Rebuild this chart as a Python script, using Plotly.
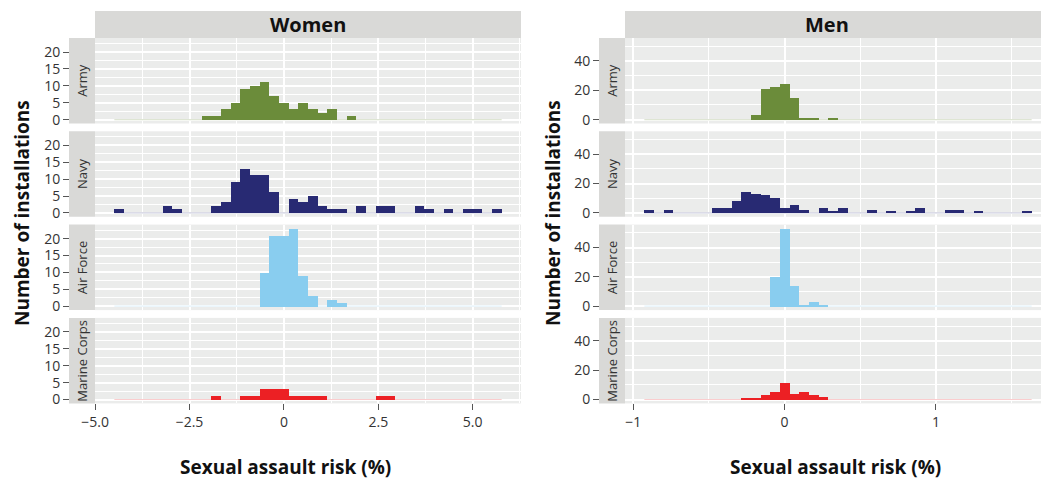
import plotly.graph_objects as go

W, H = 1049, 479
OFF = 8  # page body margin offset in the browser
FW, FH = W - OFF, H - OFF

services = ["Army", "Navy", "Air Force", "Marine Corps"]
service_colors = ["#6b8c3a", "#282a73", "#89cdef", "#ec2024"]

# ---- Women: histogram bins (40 bins) ----
women_bin_start = -4.49
women_bin_width = 0.2564
women_army = [0,0,0,0,0,0,0,0,0,1,1,3,5,9,10,11,7,5,3,5,3,2,3,0,1,0,0,0,0,0,0,0,0,0,0,0,0,0,0,0]
women_navy = [1,0,0,0,0,2,1,0,0,0,2,3,9,13,11,11,6,0,4,3,5,2,1,1,0,2,0,2,2,0,0,2,1,0,1,0,1,1,0,1]
women_airforce = [0,0,0,0,0,0,0,0,0,0,0,0,0,0,0,10,21,21,23,9,3,0,2,1,0,0,0,0,0,0,0,0,0,0,0,0,0,0,0,0]
women_marines = [0,0,0,0,0,0,0,0,0,0,1,0,0,1,1,3,3,3,1,1,1,1,0,0,0,0,0,1,1,0,0,0,0,0,0,0,0,0,0,0]

# ---- Men: histogram bins (40 bins) ----
men_bin_start = -0.926
men_bin_width = 0.06395
men_army = [0,0,0,0,0,0,0,0,0,0,0,3,21,22,24,15,1,1,0,1,0,0,0,0,0,0,0,0,0,0,0,0,0,0,0,0,0,0,0,0]
men_navy = [2,0,2,0,0,0,0,3,3,8,14,13,12,10,3,5,2,0,3,1,3,0,0,2,0,1,0,1,3,0,0,2,2,0,1,0,0,0,0,1]
men_airforce = [0,0,0,0,0,0,0,0,0,0,0,0,0,20,53,14,1,3,1,0,0,0,0,0,0,0,0,0,0,0,0,0,0,0,0,0,0,0,0,0]
men_marines = [0,0,0,0,0,0,0,0,0,0,1,1,3,5,11,4,5,3,2,0,0,0,0,0,0,0,0,0,0,0,0,0,0,0,0,0,0,0,0,0]

# ---- tick labels ----
women_xticks = [-5.0, -2.5, 0, 2.5, 5.0]
women_xticktext = ["\u22125.0", "\u22122.5", "0", "2.5", "5.0"]
women_xminor = [-3.75, -1.25, 1.25, 3.75, 6.25]
men_xticks = [-1, 0, 1]
men_xticktext = ["\u22121", "0", "1"]
men_xminor = [-0.5, 0.5, 1.5]
women_yticks = [0, 5, 10, 15, 20]
women_yminor = [2.5, 7.5, 12.5, 17.5, 22.5]
men_yticks = [0, 20, 40]
men_yminor = [10, 30, 50]

columns = [
    dict(title="Women", start=women_bin_start, width=women_bin_width,
         counts=[women_army, women_navy, women_airforce, women_marines],
         xticks=women_xticks, xtext=women_xticktext, xminor=women_xminor,
         yticks=women_yticks, yminor=women_yminor),
    dict(title="Men", start=men_bin_start, width=men_bin_width,
         counts=[men_army, men_navy, men_airforce, men_marines],
         xticks=men_xticks, xtext=men_xticktext, xminor=men_xminor,
         yticks=men_yticks, yminor=men_yminor),
]

# ---- layout geometry (window pixels) ----
col_plot_x = [(95, 521), (625, 1049)]
col_strip_x = [(69, 95), (599, 625)]
row_tops = [38, 131.3, 224.6, 317.9]
row_h = 85.5
header_y = (11, 38)

def px(x):
    return (x - OFF) / FW

def py(y):
    return 1 - (y - OFF) / FH

FONT = "Open Sans"
BG = "#ebeceb"
STRIP = "#d9d9d7"

fig = go.Figure()
layout = {}
shapes = []
annotations = []

n = 0
for c, col in enumerate(columns):
    nb = len(col["counts"][0])
    edges_lo = col["start"]
    edges_hi = col["start"] + nb * col["width"]
    pad = 0.05 * (edges_hi - edges_lo)
    x0p, x1p = col_plot_x[c]
    xlo = edges_lo - pad
    if c == 0:
        xr = [xlo, edges_hi + pad]
    else:
        full_w_px = 426.0  # uncropped panel width, same as the Women column
        s = full_w_px / ((edges_hi + pad) - xlo)
        xr = [xlo, xlo + (x1p - x0p) / s]
    ymax = max(max(v) for v in col["counts"])
    yr = [-0.05 * ymax, 1.05 * ymax]
    centers = [col["start"] + (i + 0.5) * col["width"] for i in range(nb)]

    for r, svc in enumerate(services):
        n += 1
        xa = "x" if n == 1 else f"x{n}"
        ya = "y" if n == 1 else f"y{n}"
        counts = col["counts"][r]
        color = service_colors[r]
        fig.add_trace(go.Scatter(
            x=[edges_lo, edges_hi], y=[0, 0], mode="lines",
            line=dict(color=color, width=1.2), opacity=0.22,
            xaxis=xa, yaxis=ya, showlegend=False, hoverinfo="skip"))
        fig.add_trace(go.Bar(
            x=centers, y=counts, width=[col["width"]] * nb,
            marker=dict(color=color, line=dict(width=0)),
            xaxis=xa, yaxis=ya, showlegend=False, name=svc))

        top = row_tops[r]
        bot = top + row_h
        bottom_row = (r == len(services) - 1)
        layout["xaxis" if n == 1 else f"xaxis{n}"] = dict(
            domain=[px(x0p), min(1.0, px(x1p))], range=xr, anchor=ya,
            automargin=False,
            tickvals=col["xticks"], ticktext=col["xtext"],
            showticklabels=bottom_row, ticks="outside" if bottom_row else "",
            ticklen=6, tickwidth=1.2, tickcolor="#555555",
            tickfont=dict(family=FONT, size=14, color="#333333"),
            showgrid=True, gridcolor="white", gridwidth=1.6,
            minor=dict(tickvals=col["xminor"], showgrid=True, gridcolor="white", gridwidth=0.9, ticks=""),
            zeroline=False, showline=False, fixedrange=True)
        layout["yaxis" if n == 1 else f"yaxis{n}"] = dict(
            domain=[py(bot), py(top)], range=yr, anchor="free",
            position=px(col_strip_x[c][0]), automargin=False,
            tickvals=col["yticks"], ticks="outside", ticklen=6, tickwidth=1.2,
            tickcolor="#555555",
            tickfont=dict(family=FONT, size=14, color="#333333"),
            showgrid=True, gridcolor="white", gridwidth=1.6,
            minor=dict(tickvals=col["yminor"], showgrid=True, gridcolor="white", gridwidth=0.9, ticks=""),
            zeroline=False, showline=False, fixedrange=True)

        sx0, sx1 = col_strip_x[c]
        shapes.append(dict(type="rect", xref="paper", yref="paper",
                           x0=px(sx0), x1=px(sx1), y0=py(bot), y1=py(top),
                           fillcolor=STRIP, line=dict(width=0), layer="below"))
        annotations.append(dict(x=px((sx0 + sx1) / 2), y=py((top + bot) / 2),
                                xref="paper", yref="paper", text=svc, textangle=-90,
                                showarrow=False, font=dict(family=FONT, size=13, color="#333333"),
                                xanchor="center", yanchor="middle"))

    shapes.append(dict(type="rect", xref="paper", yref="paper",
                       x0=px(x0p), x1=min(1.0, px(x1p)), y0=py(header_y[1]), y1=py(header_y[0]),
                       fillcolor=STRIP, line=dict(width=0), layer="below"))

header_text_x = [308, 827]
xtitle_x = [285, 835]
ytitle_x = [22, 553]
for c, col in enumerate(columns):
    annotations.append(dict(x=px(header_text_x[c]), y=py(24.5), xref="paper", yref="paper",
                            text=f"<b>{col['title']}</b>", showarrow=False,
                            font=dict(family=FONT, size=20, color="#111111"),
                            xanchor="center", yanchor="middle"))
    annotations.append(dict(x=px(xtitle_x[c]), y=py(467), xref="paper", yref="paper",
                            text="<b>Sexual assault risk (%)</b>", showarrow=False,
                            font=dict(family=FONT, size=19, color="#111111"),
                            xanchor="center", yanchor="middle"))
    annotations.append(dict(x=px(ytitle_x[c]), y=py(213), xref="paper", yref="paper",
                            text="<b>Number of installations</b>", showarrow=False, textangle=-90,
                            borderpad=0,
                            font=dict(family=FONT, size=19, color="#111111"),
                            xanchor="center", yanchor="middle"))

fig.update_layout(
    width=FW, height=FH, margin=dict(l=0, r=0, t=0, b=0, autoexpand=False),
    paper_bgcolor="white", plot_bgcolor=BG,
    barmode="overlay", bargap=0, showlegend=False,
    font=dict(family=FONT, color="#333333"),
    shapes=shapes, annotations=annotations, **layout)

fig.write_html("out.html")
